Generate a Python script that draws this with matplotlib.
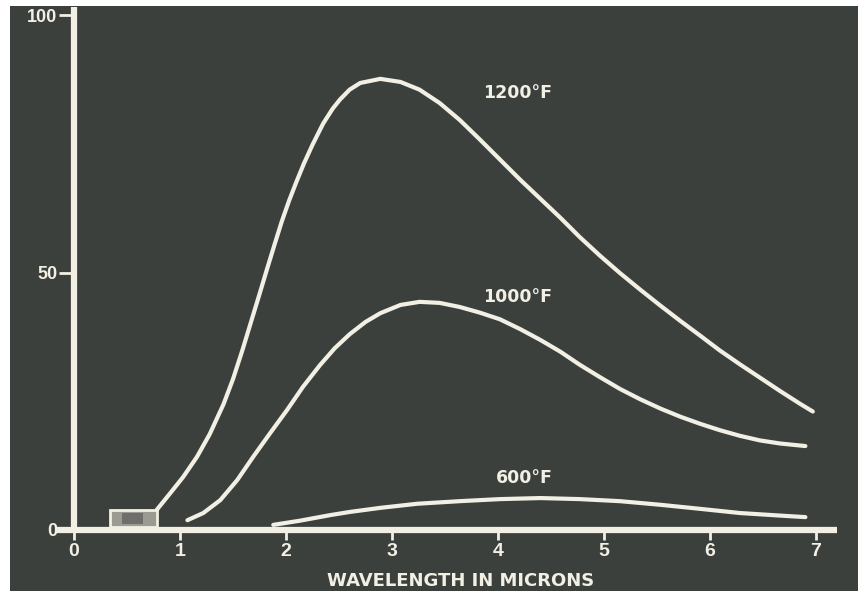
import matplotlib.pyplot as plt
from matplotlib.patches import Rectangle

# Radiant energy curves (wavelength in microns, relative energy)
wl_1200 = [0.78, 0.91, 1.03, 1.16, 1.28, 1.41, 1.50, 1.59, 1.67, 1.75, 1.82, 1.89,
           1.96, 2.03, 2.10, 2.17, 2.25, 2.35, 2.44, 2.51, 2.60, 2.70, 2.89, 3.08,
           3.26, 3.45, 3.64, 3.83, 4.02, 4.21, 4.40, 4.59, 4.77, 4.96, 5.15, 5.34,
           5.53, 5.72, 5.91, 6.09, 6.28, 6.47, 6.66, 6.85, 6.97]
en_1200 = [3.9, 7.2, 10.3, 14.2, 18.6, 24.4, 29.3, 35.0, 40.4, 45.8, 50.6, 55.3,
           59.9, 64.0, 67.7, 71.2, 74.8, 78.9, 81.8, 83.6, 85.5, 86.8, 87.6, 87.0,
           85.5, 82.9, 79.6, 75.8, 71.9, 68.0, 64.3, 60.6, 56.9, 53.3, 49.9, 46.7,
           43.6, 40.6, 37.7, 34.9, 32.2, 29.6, 27.0, 24.5, 23.0]

wl_1000 = [1.07, 1.22, 1.38, 1.54, 1.69, 1.85, 2.01, 2.16, 2.32, 2.46, 2.60, 2.75,
           2.89, 3.08, 3.26, 3.45, 3.64, 3.83, 4.02, 4.21, 4.40, 4.59, 4.77, 4.96,
           5.15, 5.34, 5.53, 5.72, 5.91, 6.09, 6.28, 6.47, 6.66, 6.90]
en_1000 = [1.9, 3.3, 5.8, 9.7, 14.2, 18.8, 23.3, 27.8, 32.0, 35.3, 38.0, 40.4,
           42.1, 43.7, 44.3, 44.1, 43.3, 42.2, 40.9, 39.0, 36.9, 34.6, 32.1, 29.7,
           27.4, 25.4, 23.6, 22.0, 20.6, 19.4, 18.3, 17.4, 16.8, 16.3]

wl_600 = [1.88, 2.13, 2.42, 2.60, 2.89, 3.24, 3.64, 4.02, 4.40, 4.77, 5.15, 5.53,
          5.91, 6.28, 6.66, 6.90]
en_600 = [1.0, 1.8, 2.9, 3.5, 4.3, 5.1, 5.6, 6.0, 6.2, 6.0, 5.6, 4.9,
          4.1, 3.3, 2.8, 2.5]

curve_labels = ['1200°F', '1000°F', '600°F']
label_pos = [(4.18, 84.9), (4.18, 45.2), (4.25, 10.1)]

visible_band = (0.34, 0.78)   # the little visible-light box near the origin
x_ticks = [0, 1, 2, 3, 4, 5, 6, 7]
y_ticks = [0, 50, 100]

bg = '#3c403c'
ink = '#f2efe4'

fig = plt.figure(figsize=(8.58, 5.91), dpi=100)
fig.patch.set_facecolor('white')

# dark board, leaving the thin white margin on the top and left
board = fig.add_axes([10 / 858, 0, 848 / 858, 585 / 591])
board.set_facecolor(bg)
board.set_xticks([])
board.set_yticks([])
for s in board.spines.values():
    s.set_visible(False)

# main axes: x_px = 74 + 106*x, y_px = 530 - 5.15*v
x0, y0 = 74, 530
sx, sy = 106, 5.15
xlim = (-0.6, 7.4)
ylim = (-11, 101.5)
left_px = x0 + sx * xlim[0]
right_px = x0 + sx * xlim[1]
bot_px = y0 - sy * ylim[0]
top_px = y0 - sy * ylim[1]
ax = fig.add_axes([left_px / 858, (591 - bot_px) / 591,
                   (right_px - left_px) / 858, (bot_px - top_px) / 591])
ax.patch.set_alpha(0)
ax.set_xlim(*xlim)
ax.set_ylim(*ylim)

for side in ['top', 'right']:
    ax.spines[side].set_visible(False)
ax.spines['left'].set_position(('data', 0))
ax.spines['bottom'].set_position(('data', 0))
ax.spines['left'].set_bounds(0, 101.5)
ax.spines['bottom'].set_bounds(-0.17, 7.2)
for side in ['left', 'bottom']:
    ax.spines[side].set_color(ink)
    ax.spines[side].set_linewidth(4.5)
    ax.spines[side].set_capstyle('butt')

ax.set_xticks(x_ticks)
ax.set_yticks(y_ticks)
ax.tick_params(axis='x', direction='out', length=7, width=2, color=ink, pad=2,
               labelcolor=ink, labelsize=14)
ax.tick_params(axis='y', direction='out', length=11, width=2, color=ink, pad=1,
               labelcolor=ink, labelsize=13)
for lbl in ax.get_xticklabels() + ax.get_yticklabels():
    lbl.set_fontweight('bold')
    lbl.set_family('Liberation Sans')

# curves
for wl, en in [(wl_1200, en_1200), (wl_1000, en_1000), (wl_600, en_600)]:
    ax.plot(wl, en, color=ink, linewidth=3.0, solid_capstyle='round',
            solid_joinstyle='round')

for txt, (x, y) in zip(curve_labels, label_pos):
    ax.text(x, y, txt, color=ink, fontsize=12.5, fontweight='bold',
            family='DejaVu Sans', ha='center', va='center')

# visible light box
box = Rectangle((visible_band[0], 0.6), visible_band[1] - visible_band[0], 3.3,
                facecolor='#9b9b93', edgecolor=ink, linewidth=2)
ax.add_patch(box)
ax.add_patch(Rectangle((0.45, 1.2), 0.2, 2.1, facecolor='#6e6f6a', edgecolor='none'))

ax.text(3.65, -9.9, 'WAVELENGTH IN MICRONS', color=ink, fontsize=13,
        fontweight='bold', family='DejaVu Sans', ha='center', va='center')

fig.savefig('out.png', dpi=100, facecolor=fig.get_facecolor())
